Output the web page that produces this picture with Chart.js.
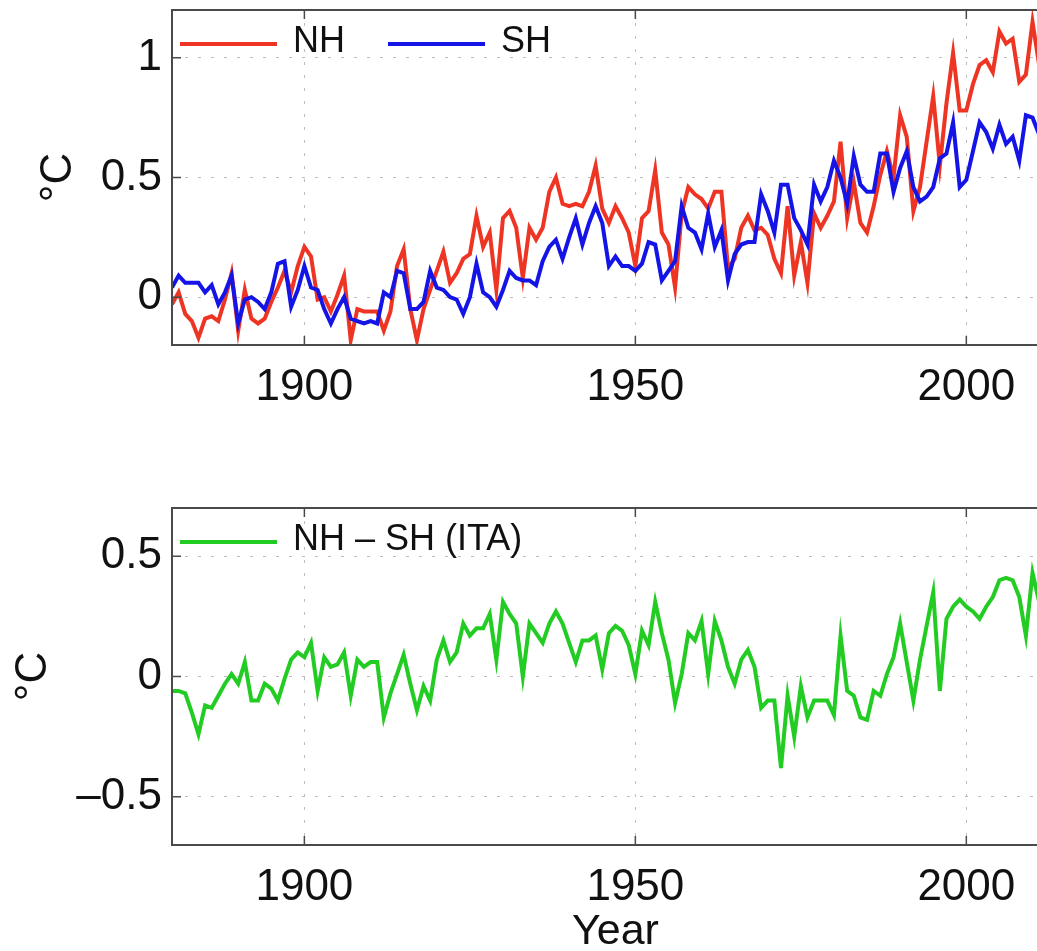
<!DOCTYPE html>
<html>
<head>
<meta charset="utf-8">
<title>NH / SH temperature</title>
<script src="https://cdn.jsdelivr.net/npm/chart.js@4.4.1/dist/chart.umd.min.js"></script>
<style>
  html, body { margin: 0; padding: 0; background: #fff; overflow: hidden; }
  body { width: 1037px; height: 951px; position: relative; }
  canvas { position: absolute; left: 0; }
  #topChart { top: 0; }
  #bottomChart { top: 498px; }
</style>
</head>
<body>
<canvas id="topChart" width="1062" height="440"></canvas>
<canvas id="bottomChart" width="1062" height="462"></canvas>
<script>
/* DATEN */
const years = [
  1880, 1881, 1882, 1883, 1884, 1885, 1886, 1887, 1888, 1889,
  1890, 1891, 1892, 1893, 1894, 1895, 1896, 1897, 1898, 1899,
  1900, 1901, 1902, 1903, 1904, 1905, 1906, 1907, 1908, 1909,
  1910, 1911, 1912, 1913, 1914, 1915, 1916, 1917, 1918, 1919,
  1920, 1921, 1922, 1923, 1924, 1925, 1926, 1927, 1928, 1929,
  1930, 1931, 1932, 1933, 1934, 1935, 1936, 1937, 1938, 1939,
  1940, 1941, 1942, 1943, 1944, 1945, 1946, 1947, 1948, 1949,
  1950, 1951, 1952, 1953, 1954, 1955, 1956, 1957, 1958, 1959,
  1960, 1961, 1962, 1963, 1964, 1965, 1966, 1967, 1968, 1969,
  1970, 1971, 1972, 1973, 1974, 1975, 1976, 1977, 1978, 1979,
  1980, 1981, 1982, 1983, 1984, 1985, 1986, 1987, 1988, 1989,
  1990, 1991, 1992, 1993, 1994, 1995, 1996, 1997, 1998, 1999,
  2000, 2001, 2002, 2003, 2004, 2005, 2006, 2007, 2008, 2009,
  2010, 2011
];

const nh = [
  -0.03, 0.02, -0.07, -0.10, -0.17, -0.09, -0.08, -0.10, -0.01, 0.10,
  -0.14, 0.03, -0.09, -0.11, -0.09, -0.02, 0.04, 0.11, 0.02, 0.13,
  0.21, 0.17, -0.01, 0.00, -0.06, 0.01, 0.09, -0.18, -0.05, -0.06,
  -0.06, -0.06, -0.14, -0.06, 0.13, 0.20, -0.05, -0.18, -0.05, 0.03,
  0.11, 0.19, 0.06, 0.10, 0.16, 0.18, 0.34, 0.21, 0.27, 0.03,
  0.33, 0.36, 0.29, 0.08, 0.29, 0.24, 0.29, 0.44, 0.50, 0.39,
  0.38, 0.39, 0.38, 0.44, 0.55, 0.37, 0.31, 0.38, 0.33, 0.27,
  0.13, 0.33, 0.36, 0.53, 0.27, 0.22, 0.04, 0.35, 0.46, 0.43,
  0.41, 0.37, 0.44, 0.44, 0.12, 0.16, 0.29, 0.34, 0.28, 0.29,
  0.26, 0.16, 0.10, 0.38, 0.09, 0.23, 0.06, 0.35, 0.29, 0.34,
  0.40, 0.65, 0.33, 0.48, 0.31, 0.27, 0.38, 0.51, 0.61, 0.50,
  0.76, 0.67, 0.36, 0.46, 0.65, 0.84, 0.55, 0.81, 1.02, 0.78,
  0.78, 0.89, 0.97, 0.99, 0.94, 1.11, 1.06, 1.08, 0.90, 0.93,
  1.15, 0.97
];

const sh = [
  0.04, 0.09, 0.06, 0.06, 0.06, 0.02, 0.05, -0.03, 0.02, 0.09,
  -0.11, -0.01, 0.00, -0.02, -0.05, 0.02, 0.14, 0.15, -0.04, 0.03,
  0.13, 0.04, 0.03, -0.05, -0.11, -0.05, 0.00, -0.09, -0.10, -0.11,
  -0.10, -0.11, 0.02, 0.00, 0.11, 0.10, -0.05, -0.05, -0.02, 0.11,
  0.04, 0.03, 0.00, -0.01, -0.07, 0.00, 0.14, 0.02, 0.00, -0.04,
  0.03, 0.11, 0.08, 0.07, 0.07, 0.05, 0.15, 0.21, 0.24, 0.16,
  0.25, 0.33, 0.22, 0.31, 0.38, 0.31, 0.13, 0.17, 0.13, 0.13,
  0.11, 0.14, 0.23, 0.22, 0.07, 0.11, 0.15, 0.38, 0.29, 0.27,
  0.20, 0.35, 0.21, 0.28, 0.07, 0.18, 0.22, 0.23, 0.23, 0.43,
  0.36, 0.27, 0.47, 0.47, 0.33, 0.28, 0.22, 0.47, 0.40, 0.46,
  0.57, 0.50, 0.39, 0.59, 0.47, 0.44, 0.44, 0.60, 0.60, 0.44,
  0.54, 0.61, 0.46, 0.40, 0.42, 0.46, 0.58, 0.60, 0.73, 0.46,
  0.49, 0.61, 0.73, 0.69, 0.62, 0.72, 0.64, 0.67, 0.57, 0.76,
  0.75, 0.68
];

const ita = [
  -0.06, -0.06, -0.07, -0.15, -0.24, -0.12, -0.13, -0.08, -0.03, 0.01,
  -0.03, 0.06, -0.10, -0.10, -0.03, -0.05, -0.10, -0.01, 0.07, 0.10,
  0.08, 0.14, -0.06, 0.08, 0.04, 0.05, 0.10, -0.08, 0.07, 0.04,
  0.06, 0.06, -0.17, -0.07, 0.01, 0.09, -0.03, -0.14, -0.04, -0.10,
  0.07, 0.15, 0.06, 0.10, 0.22, 0.17, 0.20, 0.20, 0.26, 0.07,
  0.31, 0.26, 0.22, 0.00, 0.22, 0.18, 0.14, 0.22, 0.27, 0.22,
  0.14, 0.06, 0.15, 0.15, 0.17, 0.03, 0.18, 0.21, 0.19, 0.13,
  0.01, 0.19, 0.13, 0.31, 0.18, 0.07, -0.11, 0.01, 0.18, 0.15,
  0.23, 0.01, 0.23, 0.15, 0.04, -0.03, 0.07, 0.11, 0.04, -0.13,
  -0.10, -0.10, -0.38, -0.08, -0.25, -0.04, -0.17, -0.10, -0.10, -0.10,
  -0.16, 0.17, -0.06, -0.08, -0.17, -0.18, -0.06, -0.08, 0.01, 0.08,
  0.22, 0.06, -0.10, 0.07, 0.21, 0.35, -0.06, 0.24, 0.29, 0.32,
  0.29, 0.27, 0.24, 0.29, 0.33, 0.40, 0.41, 0.40, 0.33, 0.17,
  0.43, 0.31
];

const xTicks = [1900, 1950, 2000];
const topYTicks = [0, 0.5, 1];
const topYLabels = ["0", "0.5", "1"];
const bottomYTicks = [-0.5, 0, 0.5];
const bottomYLabels = ["\u20130.5", "0", "0.5"];

const FONT = '"Liberation Sans", Arial, Helvetica, sans-serif';

function points(values) {
  return years.map((yr, i) => ({ x: yr, y: values[i] }));
}

/* ACHSENBOX + LEGENDE (Matlab-Stil) */
const matlabAxes = {
  id: "matlabAxes",
  afterDatasetsDraw(chart) {
    const { ctx, chartArea: a, scales } = chart;
    ctx.save();
    ctx.strokeStyle = "#4a4a4a";
    ctx.lineWidth = 2;
    ctx.strokeRect(a.left, a.top, a.right - a.left, a.bottom - a.top);

    ctx.lineWidth = 1.5;
    ctx.beginPath();
    scales.x.ticks.forEach(t => {
      const px = scales.x.getPixelForValue(t.value);
      ctx.moveTo(px, a.bottom); ctx.lineTo(px, a.bottom - 9);
      ctx.moveTo(px, a.top); ctx.lineTo(px, a.top + 9);
    });
    scales.y.ticks.forEach(t => {
      const py = scales.y.getPixelForValue(t.value);
      ctx.moveTo(a.left, py); ctx.lineTo(a.left + 9, py);
      ctx.moveTo(a.right, py); ctx.lineTo(a.right - 9, py);
    });
    ctx.stroke();

    let x = a.left + 8;
    const y = a.top + 34;
    ctx.font = "36px " + FONT;
    ctx.textBaseline = "alphabetic";
    chart.data.datasets.forEach(ds => {
      ctx.strokeStyle = ds.borderColor;
      ctx.lineWidth = 4;
      ctx.beginPath();
      ctx.moveTo(x, y);
      ctx.lineTo(x + 97, y);
      ctx.stroke();
      ctx.fillStyle = "#111";
      ctx.fillText(ds.label, x + 113, y + 8);
      x += 113 + ctx.measureText(ds.label).width + 43;
    });
    ctx.restore();
  }
};

function panel(id, datasets, yMin, yMax, yTicks, yLabels, yTitlePad, xAxisHeight, showYear) {
  return new Chart(document.getElementById(id), {
    type: "line",
    data: { datasets },
    options: {
      responsive: false,
      animation: false,
      layout: { padding: { top: 10, right: 3, left: 0, bottom: 0 } },
      plugins: { legend: { display: false }, tooltip: { enabled: false } },
      elements: { point: { radius: 0 }, line: { tension: 0, borderWidth: 4 } },
      scales: {
        x: {
          type: "linear",
          min: 1880,
          max: 2014,
          afterBuildTicks: s => { s.ticks = xTicks.map(v => ({ value: v })); },
          afterFit: s => { s.height = xAxisHeight; s.paddingLeft = 0; s.paddingRight = 0; },
          ticks: {
            padding: 16,
            color: "#111",
            font: { family: FONT, size: 44 },
            callback: v => String(v)
          },
          grid: { color: "#bdbdbd", lineWidth: 1, drawTicks: false },
          border: { display: false, dash: [3, 10] },
          title: {
            display: showYear,
            text: "Year",
            color: "#111",
            font: { family: FONT, size: 43 },
            padding: { top: 0, bottom: 2 }
          }
        },
        y: {
          min: yMin,
          max: yMax,
          afterBuildTicks: s => { s.ticks = yTicks.map(v => ({ value: v })); },
          afterFit: s => { s.width = 172; s.paddingTop = 0; s.paddingBottom = 0; },
          ticks: {
            padding: 10,
            color: "#111",
            font: { family: FONT, size: 44 },
            callback: v => yLabels[yTicks.indexOf(v)]
          },
          grid: { color: "#bdbdbd", lineWidth: 1, drawTicks: false },
          border: { display: false, dash: [3, 10] },
          title: {
            display: true,
            text: "\u00b0C",
            color: "#111",
            font: { family: FONT, size: 44 },
            padding: { top: yTitlePad, bottom: 0 }
          }
        }
      }
    },
    plugins: [matlabAxes]
  });
}

/* OBEN: NH und SH */
panel("topChart", [
  { label: "NH", data: points(nh), borderColor: "#ee3524", order: 1 },
  { label: "SH", data: points(sh), borderColor: "#1414e6", order: 0 }
], -0.2, 1.2, topYTicks, topYLabels, 32, 95, false);

/* UNTEN: NH - SH */
panel("bottomChart", [
  { label: "NH \u2013 SH (ITA)", data: points(ita), borderColor: "#22cc22" }
], -0.7, 0.7, bottomYTicks, bottomYLabels, 7, 115, true);
</script>
</body>
</html>
